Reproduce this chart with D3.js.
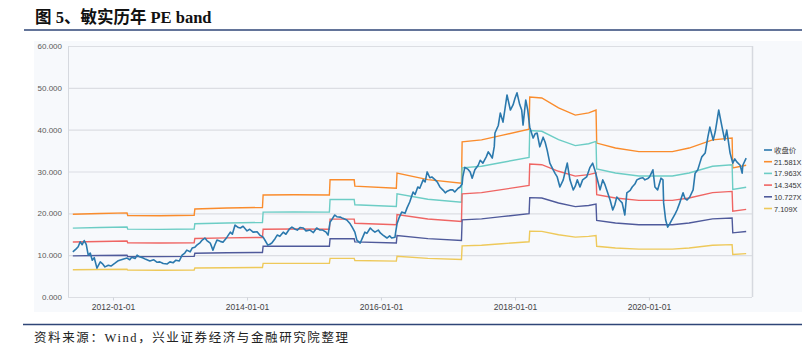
<!DOCTYPE html>
<html>
<head>
<meta charset="utf-8">
<script src="https://cdn.jsdelivr.net/npm/d3@7/dist/d3.min.js"></script>
<style>
  html, body { margin: 0; padding: 0; background: #fff; overflow: hidden; }
  svg { display: block; }
</style>
</head>
<body>
<script>
// close price, [decimal year, value]
const closePrice = [
  [2011.40, 10.8], [2011.45, 11.5], [2011.48, 12.0], [2011.51, 13.2], [2011.54, 12.5], [2011.57, 13.5],
  [2011.60, 12.6], [2011.63, 10.0], [2011.66, 10.5], [2011.69, 8.8], [2011.72, 9.4], [2011.76, 6.9],
  [2011.81, 8.4], [2011.84, 8.0], [2011.88, 7.2], [2011.93, 7.6], [2011.97, 7.4], [2012.03, 8.1],
  [2012.07, 8.6], [2012.10, 8.8], [2012.16, 9.1], [2012.21, 9.3], [2012.25, 8.9], [2012.28, 9.5],
  [2012.33, 9.2], [2012.36, 10.0], [2012.40, 9.6], [2012.45, 9.3], [2012.49, 9.0], [2012.55, 8.6],
  [2012.61, 8.9], [2012.66, 8.3], [2012.70, 8.4], [2012.75, 8.0], [2012.81, 7.9], [2012.85, 8.4],
  [2012.90, 8.2], [2012.94, 8.8], [2012.99, 8.6], [2013.03, 10.0], [2013.07, 10.5], [2013.10, 11.2],
  [2013.15, 10.8], [2013.18, 11.7], [2013.22, 11.9], [2013.25, 12.4], [2013.30, 13.0], [2013.33, 13.6],
  [2013.37, 14.1], [2013.40, 13.5], [2013.45, 12.9], [2013.49, 11.2], [2013.52, 12.5], [2013.55, 13.6],
  [2013.60, 13.3], [2013.64, 13.1], [2013.70, 14.3], [2013.75, 15.5], [2013.78, 15.0], [2013.82, 17.2],
  [2013.87, 16.6], [2013.90, 16.5], [2013.94, 16.9], [2014.00, 15.8], [2014.04, 16.2], [2014.09, 15.5],
  [2014.15, 15.6], [2014.19, 14.8], [2014.24, 14.3], [2014.27, 13.5], [2014.31, 12.4], [2014.34, 12.6],
  [2014.37, 12.9], [2014.42, 14.0], [2014.45, 14.8], [2014.49, 14.5], [2014.54, 15.5], [2014.58, 15.0],
  [2014.63, 16.2], [2014.67, 16.7], [2014.72, 16.2], [2014.75, 16.0], [2014.79, 16.6], [2014.84, 16.5],
  [2014.88, 15.8], [2014.94, 16.0], [2014.99, 15.4], [2015.04, 16.5], [2015.09, 16.0], [2015.13, 16.0],
  [2015.18, 15.5], [2015.21, 14.8], [2015.24, 17.9], [2015.27, 18.6], [2015.31, 19.6], [2015.34, 19.2],
  [2015.39, 19.1], [2015.43, 18.8], [2015.49, 18.4], [2015.54, 17.5], [2015.57, 16.7], [2015.61, 15.5],
  [2015.64, 13.6], [2015.69, 12.9], [2015.72, 14.0], [2015.76, 15.5], [2015.79, 15.2], [2015.84, 16.5],
  [2015.87, 16.0], [2015.91, 15.5], [2015.96, 16.0], [2015.99, 15.3], [2016.03, 14.8], [2016.09, 14.1],
  [2016.13, 14.6], [2016.16, 14.1], [2016.21, 14.3], [2016.22, 15.5], [2016.24, 17.5], [2016.27, 18.9],
  [2016.31, 20.3], [2016.36, 20.0], [2016.39, 21.3], [2016.43, 22.7], [2016.48, 25.1], [2016.51, 24.5],
  [2016.55, 26.3], [2016.58, 26.0], [2016.63, 28.0], [2016.66, 27.5], [2016.69, 29.9], [2016.73, 28.5],
  [2016.76, 28.7], [2016.81, 28.0], [2016.84, 27.5], [2016.88, 26.3], [2016.93, 25.5], [2016.96, 24.9],
  [2016.99, 25.3], [2017.03, 25.6], [2017.07, 25.6], [2017.10, 25.1], [2017.15, 26.0], [2017.18, 26.3],
  [2017.21, 27.0], [2017.22, 28.7], [2017.25, 31.0], [2017.30, 30.5], [2017.33, 29.9], [2017.36, 28.4],
  [2017.40, 30.4], [2017.45, 31.5], [2017.48, 32.7], [2017.52, 32.0], [2017.57, 33.5], [2017.60, 34.7],
  [2017.63, 34.0], [2017.66, 33.2], [2017.69, 36.0], [2017.70, 39.2], [2017.75, 41.0], [2017.78, 44.0],
  [2017.82, 41.8], [2017.85, 45.0], [2017.88, 48.3], [2017.93, 44.7], [2017.97, 45.9], [2018.00, 47.5],
  [2018.03, 48.8], [2018.07, 46.0], [2018.10, 44.7], [2018.12, 41.1], [2018.16, 47.1], [2018.19, 44.7],
  [2018.22, 40.6], [2018.27, 38.0], [2018.30, 39.0], [2018.33, 39.2], [2018.37, 35.9], [2018.42, 38.2],
  [2018.45, 37.0], [2018.48, 35.1], [2018.52, 32.0], [2018.57, 30.4], [2018.60, 29.5], [2018.63, 28.7],
  [2018.67, 26.3], [2018.72, 28.0], [2018.75, 30.0], [2018.78, 32.0], [2018.82, 28.0], [2018.87, 25.6],
  [2018.90, 26.5], [2018.93, 28.0], [2018.97, 26.3], [2019.01, 28.0], [2019.07, 28.7], [2019.12, 31.0],
  [2019.16, 32.0], [2019.19, 30.5], [2019.22, 28.7], [2019.27, 25.6], [2019.31, 28.0], [2019.34, 27.0],
  [2019.37, 25.6], [2019.42, 23.2], [2019.46, 20.8], [2019.49, 22.0], [2019.52, 23.9], [2019.57, 23.0],
  [2019.60, 22.5], [2019.64, 19.6], [2019.67, 24.9], [2019.72, 25.5], [2019.75, 26.3], [2019.79, 27.0],
  [2019.82, 28.0], [2019.87, 28.4], [2019.91, 28.5], [2019.94, 28.0], [2019.99, 28.4], [2020.01, 28.7],
  [2020.06, 30.4], [2020.09, 26.3], [2020.13, 25.6], [2020.18, 28.4], [2020.21, 28.0], [2020.22, 22.5],
  [2020.25, 18.4], [2020.28, 16.7], [2020.31, 17.5], [2020.34, 18.4], [2020.39, 19.8], [2020.42, 20.8],
  [2020.46, 22.5], [2020.51, 24.9], [2020.54, 23.5], [2020.57, 23.2], [2020.61, 23.9], [2020.66, 25.6],
  [2020.69, 29.6], [2020.73, 30.4], [2020.76, 32.0], [2020.79, 33.5], [2020.84, 34.4], [2020.88, 38.2],
  [2020.91, 40.6], [2020.96, 37.5], [2020.99, 39.5], [2021.01, 41.6], [2021.04, 44.7], [2021.09, 40.6],
  [2021.13, 37.5], [2021.16, 39.9], [2021.21, 34.4], [2021.25, 32.0], [2021.28, 33.0], [2021.31, 32.3],
  [2021.36, 31.5], [2021.39, 29.6], [2021.40, 31.5], [2021.45, 33.2]
];

// EPS used for the bands, [decimal year, eps]
const epsSeries = [
  [2011.40, 0.917], [2011.80, 0.925], [2012.21, 0.932], [2012.22, 0.903], [2012.70, 0.900],
  [2013.21, 0.905], [2013.22, 0.975], [2013.70, 0.985], [2014.23, 0.992], [2014.24, 1.130],
  [2014.70, 1.132], [2015.23, 1.130], [2015.24, 1.298], [2015.60, 1.298], [2015.61, 1.228],
  [2016.23, 1.205], [2016.24, 1.372], [2016.70, 1.300], [2017.20, 1.260], [2017.21, 1.719],
  [2017.50, 1.740], [2017.80, 1.790], [2018.21, 1.858], [2018.22, 2.215], [2018.40, 2.205],
  [2018.65, 2.095], [2018.90, 2.015], [2019.10, 2.040], [2019.21, 2.070], [2019.22, 1.705],
  [2019.50, 1.650], [2019.85, 1.610], [2020.10, 1.610], [2020.35, 1.610], [2020.60, 1.650],
  [2020.95, 1.740], [2021.24, 1.760], [2021.25, 1.430], [2021.45, 1.460]
];

const peMultiples = [21.581, 17.963, 14.345, 10.727, 7.109];
const legendLabels = ["收盘价", "21.581X", "17.963X", "14.345X", "10.727X", "7.109X"];
const seriesColors = ["#2b79ad", "#fa8c2c", "#6ccdc5", "#ef6563", "#4f5a9b", "#eec95a"];
const yTicks = [0, 10, 20, 30, 40, 50, 60];
const xTickYears = [2012, 2014, 2016, 2018, 2020];

const W = 802, H = 353;
const plot = {left: 68, right: 752, top: 46, bottom: 297};

function toDate(t) {
    let y = Math.floor(t);
    let start = new Date(y, 0, 1).getTime();
    return new Date(start + (t - y) * 365.25 * 864e5);
}

let svg = d3.select("body").append("svg")
    .attr("width", W)
    .attr("height", H);

// title
svg.append("text")
    .attr("x", 35)
    .attr("y", 23)
    .style("font-family", "'Liberation Serif', 'Noto Sans CJK SC', serif")
    .style("font-weight", "bold")
    .style("font-size", "16.5px")
    .style("fill", "#111")
    .text("图 5、敏实历年 PE band");

svg.append("line")
    .attr("x1", 24).attr("x2", W)
    .attr("y1", 30).attr("y2", 30)
    .style("stroke", "#2f4677")
    .style("stroke-width", 1.5);

// chart panel
svg.append("rect")
    .attr("x", 34).attr("y", 41)
    .attr("width", W - 34).attr("height", 271)
    .style("fill", "#f7f9fc");

let x = d3.scaleTime()
    .domain([toDate(2011.328), toDate(2021.537)])
    .range([plot.left, plot.right]);

let y = d3.scaleLinear()
    .domain([0, 60])
    .range([plot.bottom, plot.top]);

// grid
svg.append("g")
    .selectAll("line")
    .data(yTicks)
    .enter().append("line")
    .attr("x1", plot.left).attr("x2", plot.right)
    .attr("y1", d => y(d) + 0.5).attr("y2", d => y(d) + 0.5)
    .style("stroke", "#dcdee3")
    .style("stroke-width", 1.2);

svg.append("line")
    .attr("x1", plot.left + 0.5).attr("x2", plot.left + 0.5)
    .attr("y1", plot.top).attr("y2", plot.bottom)
    .style("stroke", "#d6d9df");
svg.append("line")
    .attr("x1", plot.right + 0.5).attr("x2", plot.right + 0.5)
    .attr("y1", plot.top).attr("y2", plot.bottom)
    .style("stroke", "#d6d9df")
    .style("stroke-width", 1.5);

// y labels
svg.append("g")
    .selectAll("text")
    .data(yTicks)
    .enter().append("text")
    .attr("x", 62)
    .attr("y", d => y(d) + 3)
    .style("text-anchor", "end")
    .style("font-family", "'Liberation Sans', Arial, sans-serif")
    .style("font-size", "8px")
    .style("fill", "#5a5a5a")
    .text(d => d3.format(".3f")(d));

// x axis
let xAxis = d3.axisBottom(x)
    .tickValues(xTickYears.map(d => new Date(d, 0, 1)))
    .tickFormat(d3.timeFormat("%Y-%m-%d"))
    .tickSize(3)
    .tickSizeOuter(0);

let gx = svg.append("g")
    .attr("transform", "translate(0," + (plot.bottom + 0.5) + ")")
    .call(xAxis);
gx.select(".domain").remove();
gx.selectAll(".tick line").style("stroke", "#cfd3da");
gx.selectAll(".tick text")
    .attr("y", 6)
    .style("font-family", "'Liberation Sans', Arial, sans-serif")
    .style("font-size", "8.5px")
    .style("fill", "#444");

let line = d3.line()
    .x(d => x(toDate(d[0])))
    .y(d => y(d[1]));

// PE bands
let bands = peMultiples.map(m => epsSeries.map(d => [d[0], d[1] * m]));

svg.append("g")
    .selectAll("path")
    .data(bands)
    .enter().append("path")
    .attr("d", line)
    .style("fill", "none")
    .style("stroke", (d, i) => seriesColors[i + 1])
    .style("stroke-width", 1.4);

svg.append("path")
    .datum(closePrice)
    .attr("d", line)
    .style("fill", "none")
    .style("stroke", seriesColors[0])
    .style("stroke-width", 1.6)
    .style("stroke-linejoin", "round");

// legend
let legend = svg.selectAll(".legend")
    .data(legendLabels)
    .enter().append("g")
    .attr("class", "legend")
    .attr("transform", (d, i) => "translate(764," + (150 + i * 11.7) + ")");

legend.append("line")
    .attr("x1", 0).attr("x2", 8)
    .style("stroke", (d, i) => seriesColors[i])
    .style("stroke-width", 1.6);

legend.append("text")
    .attr("x", 10)
    .attr("y", 3)
    .style("font-family", "'Liberation Sans', 'Noto Sans CJK SC', sans-serif")
    .style("font-size", "7.4px")
    .style("fill", "#333")
    .text(d => d);

// footer
svg.append("line")
    .attr("x1", 23).attr("x2", W)
    .attr("y1", 324.5).attr("y2", 324.5)
    .style("stroke", "#2f4677")
    .style("stroke-width", 1.5);

svg.append("text")
    .attr("x", 34)
    .attr("y", 342)
    .style("font-family", "'Liberation Serif', 'Noto Sans CJK SC', serif")
    .style("font-size", "12.5px")
    .style("letter-spacing", "1.6px")
    .style("fill", "#222")
    .text("资料来源：Wind，兴业证券经济与金融研究院整理");
</script>
</body>
</html>
